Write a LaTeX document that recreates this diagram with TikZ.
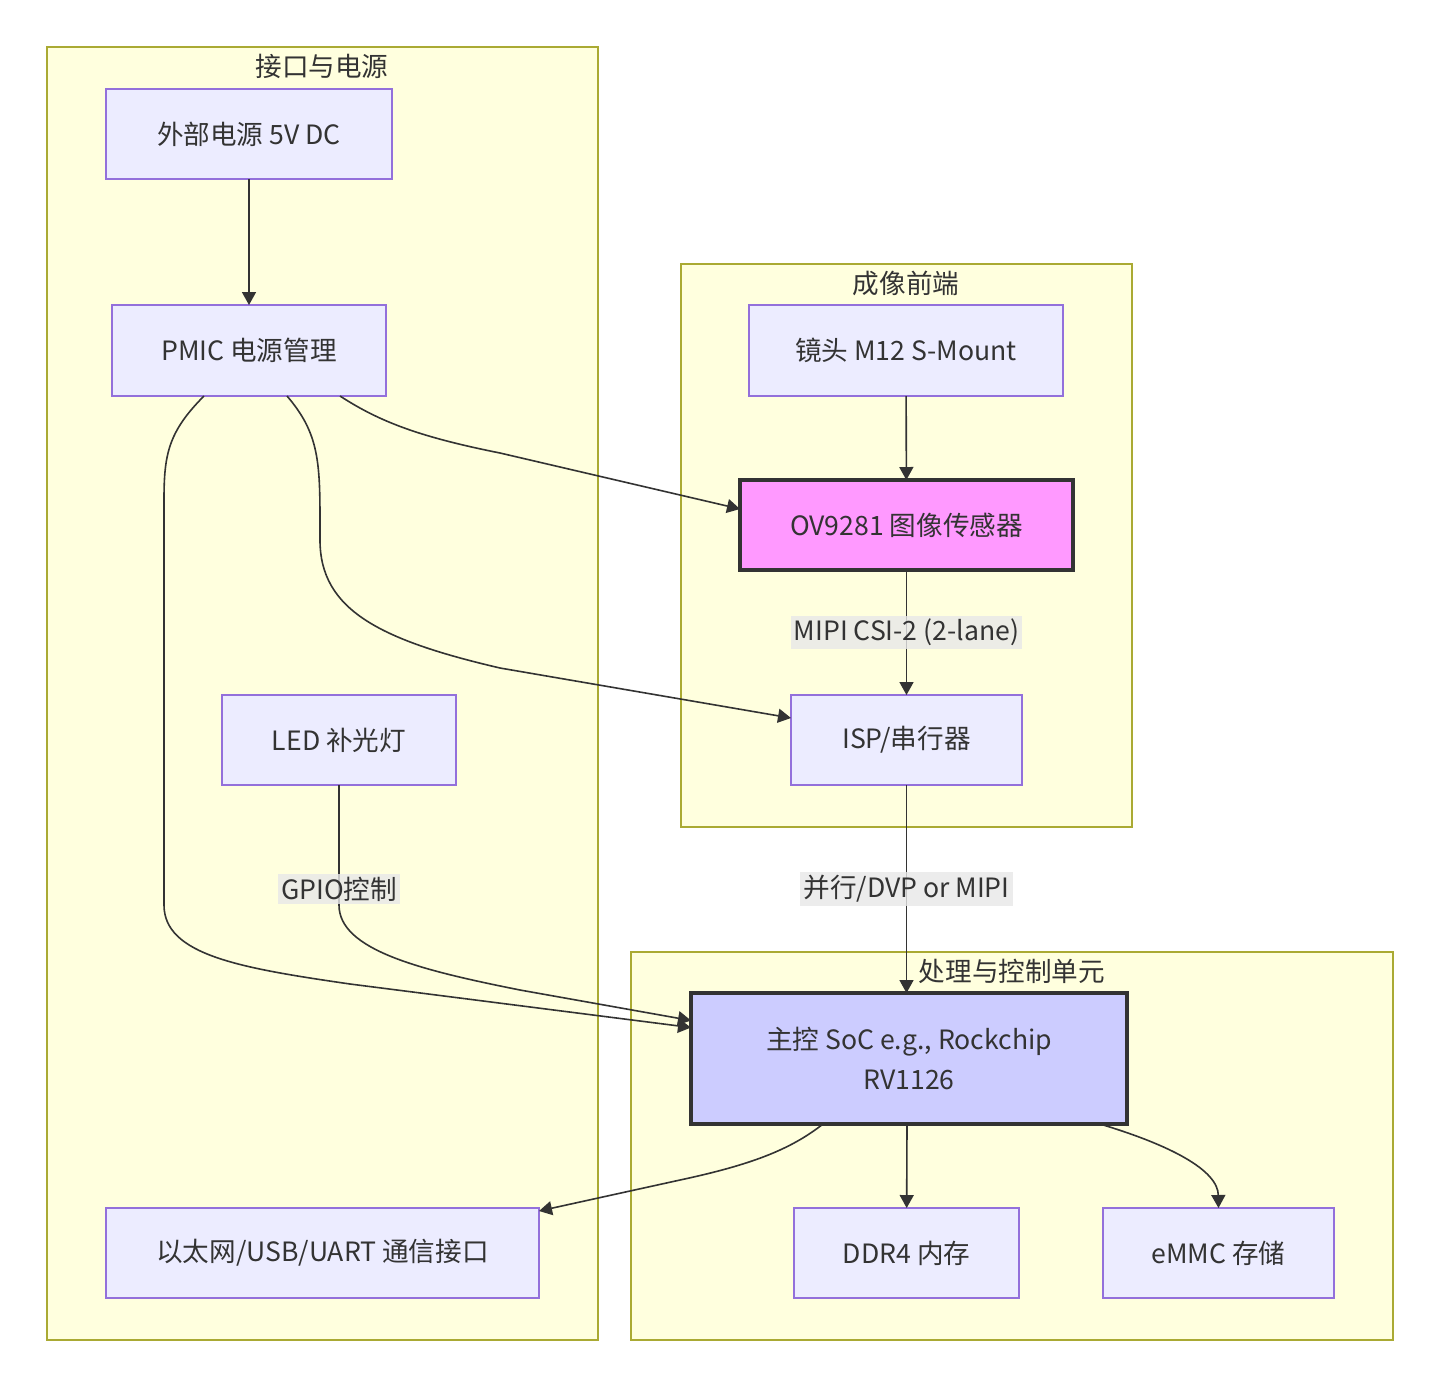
\documentclass[tikz,border=0pt]{standalone}
\usepackage{fontspec}
\setmainfont{Noto Sans CJK SC}
\usetikzlibrary{arrows.meta,calc}
\definecolor{nodefill}{HTML}{ECECFF}
\definecolor{nodeline}{HTML}{9370DB}
\definecolor{clfill}{HTML}{FFFFDE}
\definecolor{clline}{HTML}{AAAA33}
\definecolor{txt}{HTML}{333333}
\definecolor{sensor}{HTML}{FF99FF}
\definecolor{socfill}{HTML}{CCCCFF}
\definecolor{lblfill}{HTML}{E8E8E8}
\tikzset{
  box/.style={draw=nodeline, fill=nodefill, line width=0.75pt, inner sep=0pt, outer sep=0pt,
    text=txt, font=\fontsize{13.3}{20}\selectfont, align=center},
  hot/.style={draw=txt, line width=1.6pt},
  cluster/.style={draw=clline, fill=clfill, line width=0.8pt},
  cltitle/.style={text=txt, font=\fontsize{13.3}{15}\selectfont, inner sep=0pt},
  conn/.style={draw=txt, line width=0.8pt, -{Triangle[length=6.5pt,width=7pt]}},
  lbl/.style={fill=lblfill, fill opacity=0.8, text opacity=1, text=txt,
    font=\fontsize{13.3}{15}\selectfont, inner sep=1.5pt}
}
\begin{document}
\begin{tikzpicture}[x=0.5pt,y=-0.5pt]
\useasboundingbox (0,0) rectangle (1440,1388);
\fill[white] (0,0) rectangle (1440,1388);
% clusters
\draw[cluster] (47,47) rectangle (598,1340);
\node[cltitle] (t1) at (322,66) {接口与电源};
\draw[cluster] (681,264) rectangle (1132,827);
\node[cltitle] (t2) at (906,283) {成像前端};
\draw[cluster] (631,952) rectangle (1393,1340);
\node[cltitle] (t3) at (1012,971) {处理与控制单元};
% nodes
\node[box, minimum width=143pt, minimum height=45pt] (ext) at (249,134) {外部电源 5V DC};
\node[box, minimum width=137pt, minimum height=45.5pt] (pmic) at (249,350.5) {PMIC 电源管理};
\node[box, minimum width=117pt, minimum height=45pt] (led) at (339,740) {LED 补光灯};
\node[box, minimum width=216.5pt, minimum height=45pt] (com) at (322.5,1253) {以太网/USB/UART 通信接口};
\node[box, minimum width=157pt, minimum height=45.5pt] (lens) at (906,350.5) {镜头 M12 S-Mount};
\node[box, hot, fill=sensor, minimum width=166.5pt, minimum height=45pt] (ov) at (906.5,525) {OV9281 图像传感器};
\node[box, minimum width=115.5pt, minimum height=45pt] (isp) at (906.5,740) {ISP/串行器};
\node[box, hot, fill=socfill, minimum width=218pt, minimum height=65.5pt] (soc) at (909,1058.5) {主控 SoC e.g., Rockchip\\RV1126};
\node[box, minimum width=112.5pt, minimum height=45pt] (ddr) at (906.5,1253) {DDR4 内存};
\node[box, minimum width=115.5pt, minimum height=45pt] (emmc) at (1218.5,1253) {eMMC 存储};
% connectors
\draw[conn] (ext) -- (pmic);
\draw[conn] ($(pmic.south)+(91,0)$) .. controls (380,422) and (420,437) .. (500,453) -- ($(ov.west)+(0,-16)$);
\draw[conn] ($(pmic.south)+(38,0)$) .. controls (318,432) and (320,460) .. (320,520)
   -- (320,540) .. controls (320,610) and (380,640) .. (500,668) -- ($(isp.west)+(0,-22)$);
\draw[conn] ($(pmic.south)+(-45,0)$) .. controls (168,432) and (164,455) .. (164,500)
   -- (164,905) .. controls (164,955) and (240,968) .. (350,984) -- ($(soc.west)+(0,-31)$);
\draw[conn] (led) -- (339,905) .. controls (339,950) and (420,970) .. (520,990) -- ($(soc.west)+(0,-38)$);
\draw[conn] (lens) -- (ov);
\draw[conn] (ov) -- node[lbl] (l1) {MIPI CSI-2 (2-lane)} (isp);
\draw[conn] (isp) -- node[lbl, pos=0.5] (l3) {并行/DVP or MIPI} (isp.south |- soc.north);
\node[lbl] (l2) at (339,889) {GPIO控制};
\draw[conn] ($(soc.south)+(-86,0)$) .. controls (790,1150) and (750,1165) .. (680,1180) -- ($(com.north east)+(0,3)$);
\draw[conn] ($(soc.south)+(-2,0)$) -- (ddr);
\draw[conn] ($(soc.south)+(191,0)$) .. controls (1170,1145) and (1218,1170) .. (emmc.north);
\end{tikzpicture}
\end{document}
